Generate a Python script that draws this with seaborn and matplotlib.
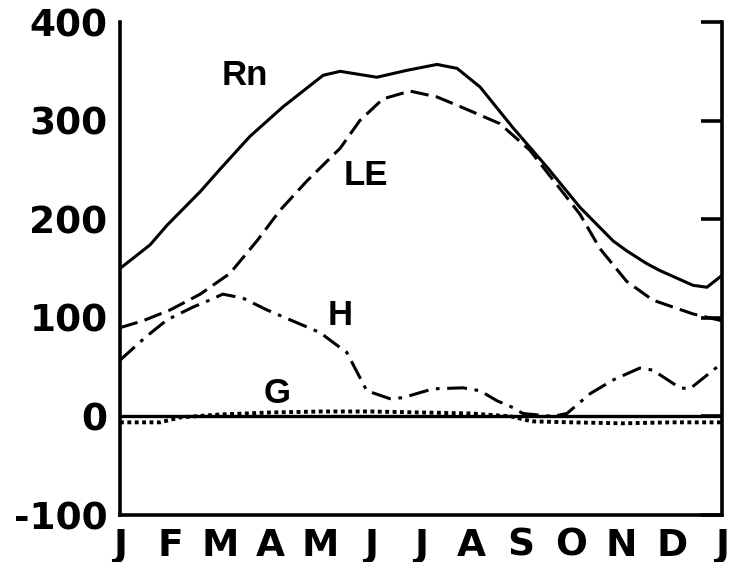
import matplotlib
matplotlib.use('Agg')
import matplotlib.pyplot as plt
import seaborn as sns

# month positions (0 = Jan, 12 = next Jan) and flux values
rn_month = [0, 0.6, 0.94, 1.6, 2.0, 2.59, 3.25, 4.05, 4.39, 5.12, 5.72, 6.32, 6.72,
            7.18, 7.83, 8.51, 9.17, 9.83, 10.1, 10.5, 10.76, 11.42, 11.7, 12]
rn_value = [150, 174, 194, 228, 251, 284, 314, 346, 350, 344, 351, 357, 353,
            334, 293, 253, 212, 178, 168, 155, 148, 133, 131, 143]

le_month = [0, 0.46, 1.0, 1.6, 2.19, 2.73, 3.19, 3.73, 4.39, 4.78, 5.24, 5.78, 6.32,
            6.84, 7.57, 8.17, 9.17, 9.57, 10.1, 10.62, 11.42, 12]
le_value = [90, 97, 108, 124, 145, 178, 209, 239, 272, 300, 322, 330, 324,
            313, 297, 270, 205, 170, 137, 118, 104, 97]

h_month = [0, 0.5, 0.94, 1.46, 1.79, 2.05, 2.45, 2.93, 3.39, 3.99, 4.25, 4.52, 4.92,
           5.38, 5.64, 6.24, 6.84, 7.18, 7.51, 7.83, 8.03, 8.63, 8.91, 9.37, 9.83,
           10.36, 10.62, 11.16, 11.36, 12]
h_value = [57, 80, 98, 111, 118, 124, 120, 108, 98, 85, 75, 65, 26,
           18, 19, 28, 29, 26, 16, 9, 3, 0, 3, 23, 37,
           49, 47, 29, 28, 54]

g_month = [0, 0.8, 1.2, 2, 3, 4, 5, 6, 7, 7.8, 8.2, 9, 10, 11, 12]
g_value = [-6, -6, -1, 2, 4, 5, 5, 4, 3, 0, -5, -6, -7, -6, -6]

month_labels = ["J", "F", "M", "A", "M", "J", "J", "A", "S", "O", "N", "D", "J"]
y_ticks = [-100, 0, 100, 200, 300, 400]

sns.set_style("white")
plt.rcParams['font.family'] = ['DejaVu Sans']
plt.rcParams['text.color'] = 'black'

fig = plt.figure(figsize=(7.32, 5.62), dpi=100)
ax = fig.add_axes([0.1639, 0.0836, 0.8224, 0.8772])

ax.axhline(0, color="black", lw=2.4, zorder=3)

sns.lineplot(x=g_month, y=g_value, ax=ax, color="black", lw=2.8,
             linestyle=(0, (1.0, 0.9)), zorder=2)
sns.lineplot(x=h_month, y=h_value, ax=ax, color="black", lw=2.2,
             linestyle=(0, (6.5, 2.5, 1.2, 2.5)))
sns.lineplot(x=le_month, y=le_value, ax=ax, color="black", lw=2.2,
             linestyle=(0, (6, 2.4)))
sns.lineplot(x=rn_month, y=rn_value, ax=ax, color="black", lw=2.2)

ax.set_xlim(0, 12)
ax.set_ylim(-100, 400)
ax.set_xticks(range(13))
ax.set_xticklabels(month_labels)
ax.set_yticks(y_ticks)
ax.set_yticklabels([str(v) for v in y_ticks])

for side in ["left", "right", "bottom"]:
    ax.spines[side].set_linewidth(2.6)
    ax.spines[side].set_color("black")
ax.spines["top"].set_visible(False)

ax.tick_params(axis="both", direction="in", length=15, width=2.6, colors="black",
               labelsize=27, pad=9)
ax.tick_params(axis="y", right=True, labelright=False)
for lab in ax.get_xticklabels() + ax.get_yticklabels():
    lab.set_fontweight("bold")

lab_font = dict(fontsize=25, fontweight="bold", family="Liberation Sans",
                color="black", ha="center", va="center")
ax.text(2.49, 346, "Rn", **lab_font)
ax.text(4.90, 244, "LE", **lab_font)
ax.text(4.39, 102, "H", **lab_font)
ax.text(3.13, 23, "G", **lab_font)

ax.set_xlabel("")
ax.set_ylabel("")
fig.savefig("out.png", dpi=100, facecolor="white")
